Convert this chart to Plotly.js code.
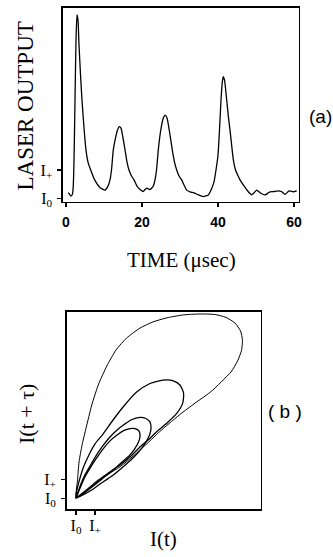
<!DOCTYPE html>
<html>
<head>
<meta charset="utf-8">
<script src="https://cdn.plot.ly/plotly-3.0.1.min.js"></script>
<style>html,body{margin:0;padding:0;background:#fff;}#chart{width:333px;height:557px;}</style>
</head>
<body>
<div id="chart"></div>
<script>
// (a) laser output time series: time in microseconds, output in units where I0 = 0, I+ = 1
const timeUs = [0.61,1.32,1.71,1.92,2.11,2.37,2.63,2.89,3.16,3.42,3.82,4.21,4.74,5.26,5.79,6.50,7.55,8.95,10.26,11.05,11.58,11.97,12.45,13.03,13.55,14.03,14.47,15.0,15.53,16.05,16.58,17.24,17.89,18.68,19.47,20.26,21.24,22.11,22.97,23.42,23.82,24.29,24.87,25.53,26.05,26.58,27.24,27.97,28.55,29.13,29.74,30.45,31.05,31.76,32.63,33.68,34.82,36.13,37.45,38.34,38.95,39.47,40.0,40.39,40.79,41.13,41.39,41.71,42.29,42.76,43.16,44.03,44.61,45.18,45.79,46.66,47.97,48.87,49.47,50.18,51.24,52.37,53.68,54.74,55.87,56.76,57.63,58.68,59.82,60.71];
const laserOutput = [0.20,0.08,0.15,0.47,1.35,3.47,5.59,6.48,6.30,5.42,4.36,3.47,2.48,1.70,1.28,1.0,0.65,0.38,0.29,0.43,0.65,1.0,1.71,2.13,2.41,2.53,2.48,2.13,1.71,1.28,1.0,0.79,0.65,0.43,0.31,0.24,0.36,0.31,0.43,0.65,1.0,1.71,2.35,2.80,2.94,2.84,2.35,1.71,1.28,1.0,0.79,0.65,0.47,0.29,0.23,0.19,0.12,0.06,0.12,0.35,0.58,1.0,1.53,2.41,3.47,4.11,4.30,4.18,3.47,2.84,2.41,1.36,1.0,0.82,0.65,0.47,0.23,0.12,0.19,0.29,0.18,0.12,0.23,0.24,0.26,0.23,0.14,0.26,0.23,0.26];
const timeTicks = [0, 20, 40, 60];
const levelTicks = [0, 1];
const levelLabels = ["I<sub>0</sub>", "I<sub>+</sub>"];

// (b) phase portrait loops: I(t) and I(t + tau), same units
const loop1X = [0,0.08,0.16,0.32,0.53,0.83,1.17,1.62,2.11,2.67,3.37,4.05,4.79,5.65,6.53,7.32,7.89,8.37,8.66,8.76,8.71,8.50,8.16,7.75,7.26,6.88,6.42,6.0,5.53,5.12,4.68,4.33,3.89,3.42,2.95,2.32,1.63,1.05,0.58,0.21,0];
const loop1Y = [0.02,0.96,1.91,2.81,3.70,4.91,5.96,6.96,7.81,8.44,8.96,9.28,9.50,9.65,9.70,9.67,9.52,9.22,8.80,8.32,7.78,7.22,6.65,6.23,5.75,5.44,5.12,4.81,4.46,4.12,3.75,3.44,3.02,2.59,2.17,1.66,1.23,0.81,0.44,0.15,0.02];
const loop2X = [0,0.05,0.21,0.42,0.68,1.0,1.42,1.95,2.5,3.19,3.89,4.32,4.77,5.16,5.47,5.66,5.62,5.32,4.79,4.26,3.89,3.42,2.95,2.32,1.63,1.05,0.58,0.21,0];
const loop2Y = [0.02,0.44,1.07,1.71,2.28,2.86,3.38,4.12,4.83,5.59,6.04,6.17,6.23,6.17,5.96,5.54,5.02,4.49,3.96,3.52,3.15,2.75,2.28,1.75,1.28,0.86,0.46,0.17,0.02];
const loop3X = [0,0.11,0.26,0.47,0.74,1.05,1.37,1.74,2.16,2.53,2.89,3.37,3.68,3.89,3.95,3.87,3.68,3.42,3.05,2.53,1.89,1.26,0.74,0.26,0];
const loop3Y = [0.02,0.33,0.75,1.23,1.70,2.23,2.70,3.17,3.59,3.88,4.12,4.26,4.20,4.02,3.70,3.33,2.96,2.59,2.17,1.70,1.17,0.75,0.38,0.12,0.02];
const loop4X = [0,0.11,0.26,0.47,0.74,1.05,1.42,1.79,2.16,2.53,2.84,3.11,3.32,3.37,3.29,3.08,2.79,2.37,1.89,1.37,0.84,0.37,0];
const loop4Y = [0.02,0.28,0.65,1.12,1.59,2.07,2.59,3.02,3.33,3.57,3.67,3.67,3.54,3.28,2.96,2.59,2.23,1.86,1.44,1.02,0.59,0.23,0.02];

const W = 333, H = 557;
const px = v => v / W;
const py = v => 1 - v / H;
const serif = "Liberation Serif, Times New Roman, serif";
const sans = "Liberation Sans, Arial, sans-serif";
const ink = "#000";

function loopTrace(x, y, w) {
  return {x: x, y: y, xaxis: "x2", yaxis: "y2", type: "scatter", mode: "lines",
          line: {color: ink, width: w, shape: "spline", smoothing: 0.6}, hoverinfo: "skip"};
}

const data = [
  {x: timeUs, y: laserOutput, type: "scatter", mode: "lines",
   line: {color: ink, width: 1.3, shape: "spline", smoothing: 0.5}, hoverinfo: "skip"},
  loopTrace(loop1X, loop1Y, 1.0),
  loopTrace(loop2X, loop2Y, 1.3),
  loopTrace(loop3X, loop3Y, 1.3),
  loopTrace(loop4X, loop4Y, 1.3)
];

const baseAxis = {showgrid: false, zeroline: false, showline: true, linecolor: ink, linewidth: 1.6,
                  mirror: true, ticks: "outside", tickcolor: ink, tickwidth: 1.5, ticklen: 4};

const layout = {
  width: W, height: H, margin: {l: 0, r: 0, t: 0, b: 0},
  paper_bgcolor: "#fff", plot_bgcolor: "#fff", showlegend: false,
  xaxis: Object.assign({}, baseAxis, {domain: [px(63), px(298.5)], range: [-0.79, 61.18],
         tickvals: timeTicks, ticktext: timeTicks.map(String), ticklabelstandoff: 3,
         tickfont: {family: sans, size: 14, color: ink, weight: "bold"}}),
  yaxis: Object.assign({}, baseAxis, {domain: [py(201.7), py(8)], range: [-0.12, 6.72],
         tickvals: levelTicks, ticktext: levelLabels, ticklabelstandoff: 2,
         tickfont: {family: serif, size: 16, color: ink}}),
  xaxis2: Object.assign({}, baseAxis, {anchor: "y2", domain: [px(66.7), px(260.5)], range: [-0.49, 9.71],
         tickvals: levelTicks, ticktext: levelLabels, ticklabelstandoff: -3,
         tickfont: {family: serif, size: 16, color: ink}}),
  yaxis2: Object.assign({}, baseAxis, {anchor: "x2", domain: [py(509.3), py(311.5)], range: [-0.58, 9.83],
         tickvals: levelTicks, ticktext: levelLabels, ticklabelstandoff: 2,
         tickfont: {family: serif, size: 16, color: ink}}),
  annotations: [
    {text: "LASER OUTPUT", xref: "paper", yref: "paper", x: px(25), y: py(106.5), textangle: -90,
     showarrow: false, xanchor: "center", yanchor: "middle", font: {family: serif, size: 23, color: ink}},
    {text: "TIME (μsec)", xref: "paper", yref: "paper", x: px(181), y: py(260),
     showarrow: false, xanchor: "center", yanchor: "middle", font: {family: serif, size: 21, color: ink}},
    {text: "(a)", xref: "paper", yref: "paper", x: px(320), y: py(117),
     showarrow: false, xanchor: "center", yanchor: "middle", font: {family: sans, size: 19, color: ink}},
    {text: "I(t + τ)", xref: "paper", yref: "paper", x: px(26), y: py(414), textangle: -90,
     showarrow: false, xanchor: "center", yanchor: "middle", font: {family: serif, size: 22, color: ink}},
    {text: "I(t)", xref: "paper", yref: "paper", x: px(163), y: py(539),
     showarrow: false, xanchor: "center", yanchor: "middle", font: {family: serif, size: 21, color: ink}},
    {text: "( b )", xref: "paper", yref: "paper", x: px(285), y: py(411.7),
     showarrow: false, xanchor: "center", yanchor: "middle", font: {family: sans, size: 19, color: ink}}
  ]
};

Plotly.newPlot("chart", data, layout, {staticPlot: true, displayModeBar: false});
</script>
</body>
</html>
